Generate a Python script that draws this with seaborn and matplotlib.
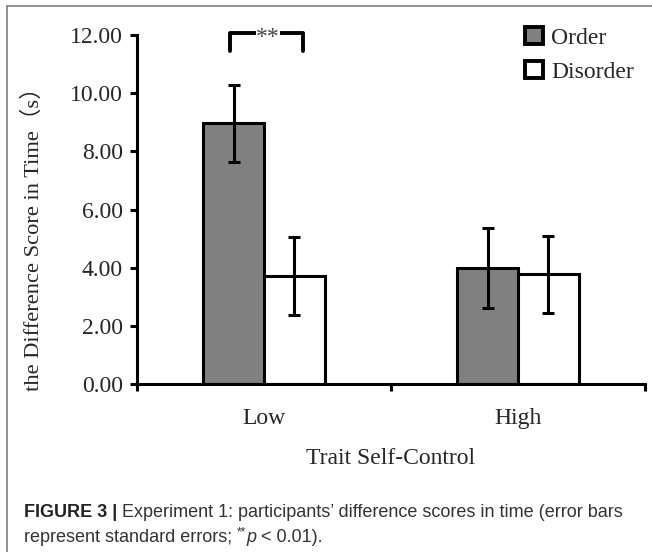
import matplotlib

matplotlib.use("Agg")

import matplotlib.pyplot as plt
import matplotlib.lines as mlines
import numpy as np
import pandas as pd
import seaborn as sns
from matplotlib.patches import Patch

# data
groups = ["Low", "High"]
conditions = ["Order", "Disorder"]
order_means = [8.96, 3.98]
disorder_means = [3.71, 3.77]
order_se = [1.32, 1.38]
disorder_se = [1.35, 1.33]
y_ticks = [0, 2, 4, 6, 8, 10, 12]

df = pd.DataFrame({
    "group": groups * 2,
    "condition": [conditions[0]] * 2 + [conditions[1]] * 2,
    "score": order_means + disorder_means,
    "se": order_se + disorder_se,
})

sns.set_theme(style="white")
SERIF = ["Liberation Serif", "Noto Sans CJK SC", "DejaVu Sans"]
plt.rcParams["font.family"] = SERIF

COLORS = {"Order": "#808080", "Disorder": "#ffffff"}
LW = 2.2

fig = plt.figure(figsize=(6.52, 5.52), dpi=100)
ax = fig.add_axes([137 / 652, 1 - 384 / 552, (645 - 137) / 652, (384 - 35) / 552])

sns.barplot(data=df, x="group", y="score", hue="condition", order=groups,
            hue_order=conditions, palette=COLORS, errorbar=None, width=0.48,
            edgecolor="black", linewidth=LW, saturation=1, legend=False, ax=ax)

# error bars at the bar centres
for cont, cond in zip(ax.containers, conditions):
    sub = df[df["condition"] == cond].set_index("group").loc[groups]
    xs = [b.get_x() + b.get_width() / 2 for b in cont]
    ax.errorbar(xs, sub["score"].values, yerr=sub["se"].values, fmt="none",
                ecolor="black", elinewidth=LW, capsize=4.5, capthick=LW, zorder=5)

ax.set_xlim(-0.5, 1.5)
ax.set_ylim(0, 12)
ax.set_yticks(y_ticks)
ax.set_yticklabels([f"{v:.2f}" for v in y_ticks], fontsize=17)
ax.set_xticks([0, 1])
ax.set_xticklabels(groups, fontsize=17)
ax.set_xticks([-0.5, 0.5, 1.5], minor=True)
ax.tick_params(axis="x", which="major", length=0, pad=17)
ax.tick_params(axis="x", which="minor", direction="out", length=5, width=LW,
               color="black", bottom=True)
ax.tick_params(axis="y", direction="out", length=5, width=LW, color="black",
               left=True, pad=5)

for side in ["top", "right"]:
    ax.spines[side].set_visible(False)
for side in ["left", "bottom"]:
    ax.spines[side].set_linewidth(LW)
    ax.spines[side].set_color("black")

ax.set_xlabel("Trait Self-Control", fontsize=17, labelpad=14)
ax.set_ylabel("")
fig.text(33 / 652, 1 - 234 / 552, "the Difference Score in Time（s）",
         rotation=90, ha="center", va="center", fontsize=16.2, family=SERIF)

# significance bracket over the Low group
bx = [-0.134, -0.134, 0.154, 0.154]
by = [11.45, 12.08, 12.08, 11.45]
ax.plot(bx, by, color="black", lw=LW + 0.6, clip_on=False,
        solid_capstyle="round", solid_joinstyle="round")
ax.text(0.016, 11.93, "**", ha="center", va="center", fontsize=17,
        color="#444444", clip_on=False,
        bbox=dict(facecolor="white", edgecolor="none", pad=0.2))

handles = [Patch(facecolor=COLORS[c], edgecolor="black", linewidth=2.8)
           for c in conditions]
ax.legend(handles, conditions, loc="upper left",
          bbox_to_anchor=(525 / 652, 1 - 27 / 552), bbox_transform=fig.transFigure,
          frameon=False, fontsize=17, handlelength=0.75, handleheight=0.75,
          handletextpad=0.35, labelspacing=0.5, borderpad=0, borderaxespad=0)

# page frame (left and top edges)
frame_kw = dict(color="#7f7f7f", lw=1.2, transform=fig.transFigure)
fig.add_artist(mlines.Line2D([7 / 652, 7 / 652], [0, 1 - 6 / 552], **frame_kw))
fig.add_artist(mlines.Line2D([7 / 652, 1], [1 - 6 / 552, 1 - 6 / 552], **frame_kw))

# caption, built piece by piece
SANS = ["Liberation Sans", "DejaVu Sans"]
CAP = 13.0
renderer = fig.canvas.get_renderer()


def put_line(pieces, x_px, base_px):
    x = x_px
    for txt, kw, rise in pieces:
        t = fig.text(x / 652, 1 - (base_px - rise) / 552, txt, ha="left",
                     va="baseline", family=SANS, **kw)
        x += t.get_window_extent(renderer).width


put_line([("FIGURE 3 | ", dict(fontsize=CAP, weight="bold", color="#222222"), 0),
          ("Experiment 1: participants\u2019 difference scores in time (error bars",
           dict(fontsize=CAP, color="#333333"), 0)], 24, 517)
put_line([("represent standard errors; ", dict(fontsize=CAP, color="#333333"), 0),
          ("**", dict(fontsize=CAP * 0.65, color="#333333"), 7),
          ("p", dict(fontsize=CAP, style="italic", color="#333333"), 0),
          (" < 0.01).", dict(fontsize=CAP, color="#333333"), 0)], 24, 542)

fig.savefig("out.png", dpi=100)
plt.close(fig)
